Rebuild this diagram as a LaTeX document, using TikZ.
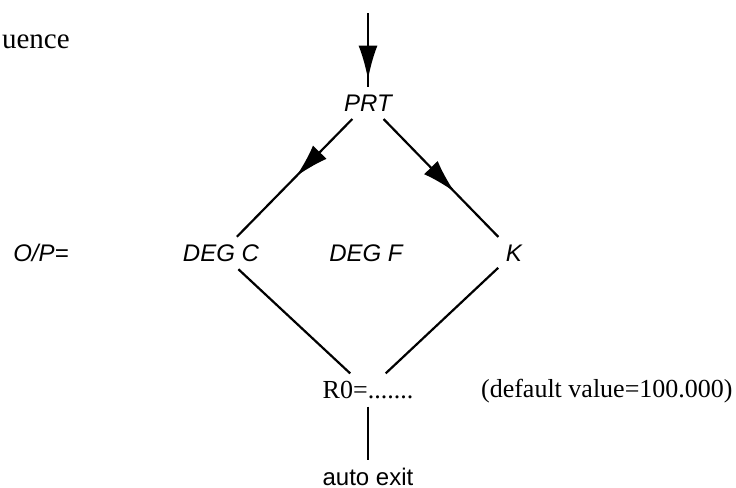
\documentclass[tikz,border=0pt]{standalone}
\usepackage{fontspec}
\setmainfont{Liberation Serif}
\newfontfamily\helv{Liberation Sans}
\usetikzlibrary{arrows.meta,decorations.markings}

\begin{document}
\begin{tikzpicture}[x=0.5pt, y=-0.5pt, line width=1.1pt,
sel/.style={font=\helv\itshape\fontsize{12}{14}\selectfont},
plain/.style={font=\fontsize{13}{16}\selectfont},
mid arrow/.style={postaction={decorate}, decoration={markings,
mark=at position #1 with {\arrow{Latex[length=17pt,width=9.5pt]}}}}]
\useasboundingbox (0,0) rectangle (736,488);
\node [font=\fontsize{14.5}{17}\selectfont, anchor=base west, inner sep=0pt] (seq) at (1,48) {uence};
\coordinate (in) at (368,13);
\node [sel] (prt) at (368,103) {PRT};
\node [sel] (op) at (41,253) {O/P=};
\node [sel] (degc) at (221,253) {DEG C};
\node [sel] (degf) at (366,253) {DEG F};
\node [sel] (k) at (514,253) {K};
\node [plain] (r0) at (368,390) {R0=.......};
\node [plain, anchor=base west, inner sep=0pt] (dflt) at (480,397) {(default value=100.000)};
\node [font=\helv\fontsize{12}{14}\selectfont] (exit) at (368,477) {auto exit};
\path (in) edge [mid arrow=0.9] (prt)
(prt) edge [mid arrow=0.49] (degc)
edge [mid arrow=0.62] (k)
(degc) edge (r0)
(k) edge (r0)
(r0) edge (exit);
\end{tikzpicture}
\end{document}
